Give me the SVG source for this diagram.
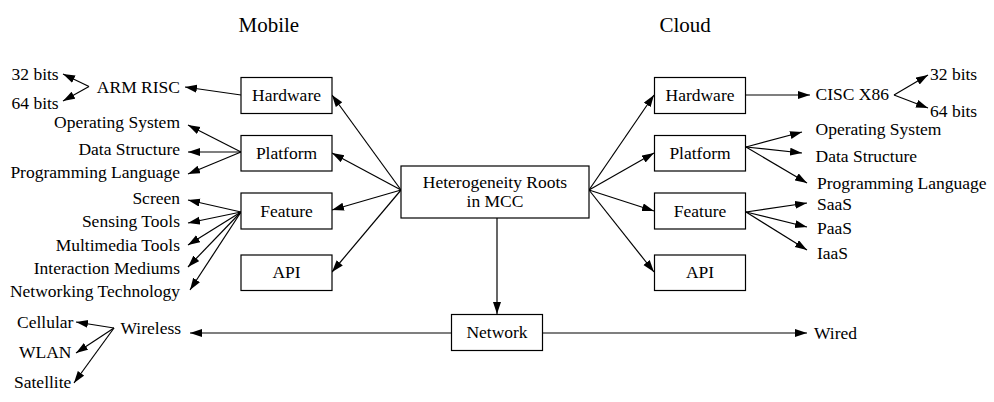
<svg xmlns="http://www.w3.org/2000/svg" width="994" height="402" viewBox="0 0 994 402">
<style>
  text { font-family: "Liberation Serif", "Times New Roman", serif; font-size: 17.5px; fill: #000; }
  .title { font-size: 21px; }
  .end { text-anchor: end; }
  .mid { text-anchor: middle; }
  rect.box { fill: #fff; stroke: #000; stroke-width: 1.2; }
  #connectors line { stroke: #000; stroke-width: 1.2; marker-end: url(#arrow); }
</style>
<defs>
  <marker id="arrow" markerUnits="userSpaceOnUse" markerWidth="13" markerHeight="9" refX="12" refY="4" orient="auto">
    <path d="M0,0 L12,4 L0,8 z" fill="#000"/>
  </marker>
</defs>
<rect width="994" height="402" fill="#fff"/>

<text class="title" x="238.5" y="32">Mobile</text>
<text class="title" x="659.5" y="32">Cloud</text>

<g id="connectors">
  <!-- center to left boxes -->
  <line x1="401" y1="190" x2="332" y2="95"/>
  <line x1="401" y1="190" x2="332" y2="153"/>
  <line x1="401" y1="190" x2="332" y2="210"/>
  <line x1="401" y1="190" x2="332" y2="272"/>
  <!-- center to right boxes -->
  <line x1="589" y1="190" x2="654" y2="95"/>
  <line x1="589" y1="190" x2="654" y2="153"/>
  <line x1="589" y1="190" x2="654" y2="211"/>
  <line x1="589" y1="190" x2="654" y2="272"/>
  <!-- center to network -->
  <line x1="497" y1="218" x2="497" y2="314"/>
  <!-- network -->
  <line x1="451" y1="333" x2="190" y2="333"/>
  <line x1="543" y1="333" x2="807" y2="333"/>
  <!-- wireless -->
  <line x1="114" y1="328" x2="76" y2="322"/>
  <line x1="114" y1="328" x2="76" y2="353"/>
  <line x1="114" y1="328" x2="74" y2="383"/>
  <!-- mobile hardware -->
  <line x1="241" y1="95" x2="185" y2="87"/>
  <line x1="89" y1="86.5" x2="63" y2="74"/>
  <line x1="89" y1="86.5" x2="63" y2="101"/>
  <!-- mobile platform -->
  <line x1="241" y1="152" x2="188" y2="125"/>
  <line x1="241" y1="152" x2="188" y2="152"/>
  <line x1="241" y1="152" x2="188" y2="174"/>
  <!-- mobile feature -->
  <line x1="241" y1="212" x2="188" y2="200"/>
  <line x1="241" y1="212" x2="188" y2="223"/>
  <line x1="241" y1="212" x2="188" y2="245"/>
  <line x1="241" y1="212" x2="188" y2="267"/>
  <line x1="241" y1="212" x2="190" y2="290"/>
  <!-- cloud hardware -->
  <line x1="746" y1="95" x2="810" y2="95"/>
  <line x1="894" y1="95" x2="928" y2="75"/>
  <line x1="894" y1="95" x2="928" y2="108"/>
  <!-- cloud platform -->
  <line x1="746" y1="147" x2="802" y2="132"/>
  <line x1="746" y1="147" x2="802" y2="153"/>
  <line x1="746" y1="147" x2="807" y2="183"/>
  <!-- cloud feature -->
  <line x1="746" y1="212" x2="807" y2="203"/>
  <line x1="746" y1="212" x2="807" y2="227"/>
  <line x1="746" y1="212" x2="807" y2="250"/>
</g>

<g id="root">
  <rect class="box" x="401" y="166" width="188" height="52"/>
  <text class="mid" x="495" y="187.5">Heterogeneity Roots</text>
  <text class="mid" x="495" y="207">in MCC</text>
</g>
<g id="network">
  <rect class="box" x="451.5" y="314.5" width="91" height="36"/>
  <text class="mid" x="497" y="338">Network</text>
</g>

<g id="m-hardware">
  <rect class="box" x="241" y="77.5" width="91" height="36"/>
  <text class="mid" x="286.5" y="101">Hardware</text>
</g>
<g id="m-platform">
  <rect class="box" x="241" y="135.5" width="91" height="35.5"/>
  <text class="mid" x="286.5" y="159">Platform</text>
</g>
<g id="m-feature">
  <rect class="box" x="241" y="193" width="91" height="36"/>
  <text class="mid" x="286.5" y="216.5">Feature</text>
</g>
<g id="m-api">
  <rect class="box" x="241" y="255" width="91" height="35.5"/>
  <text class="mid" x="286.5" y="277.5">API</text>
</g>

<g id="c-hardware">
  <rect class="box" x="654.5" y="77.5" width="91" height="36"/>
  <text class="mid" x="700" y="101">Hardware</text>
</g>
<g id="c-platform">
  <rect class="box" x="654.5" y="135.5" width="91" height="35.5"/>
  <text class="mid" x="700" y="159">Platform</text>
</g>
<g id="c-feature">
  <rect class="box" x="654.5" y="193" width="91" height="36"/>
  <text class="mid" x="700" y="216.5">Feature</text>
</g>
<g id="c-api">
  <rect class="box" x="654.5" y="255" width="91" height="35.5"/>
  <text class="mid" x="700" y="277.5">API</text>
</g>

<g id="m-leaves">
  <text x="11.5" y="79.5">32 bits</text>
  <text x="11.5" y="109">64 bits</text>
  <text class="end" x="180" y="92.5">ARM RISC</text>
  <text class="end" x="180" y="128">Operating System</text>
  <text class="end" x="180" y="155">Data Structure</text>
  <text class="end" x="180" y="178">Programming Language</text>
  <text class="end" x="180" y="204">Screen</text>
  <text class="end" x="180" y="227">Sensing Tools</text>
  <text class="end" x="180" y="251">Multimedia Tools</text>
  <text class="end" x="180" y="274">Interaction Mediums</text>
  <text class="end" x="180" y="297">Networking Technology</text>
  <text x="120.5" y="334">Wireless</text>
  <text x="17" y="328">Cellular</text>
  <text x="19" y="358">WLAN</text>
  <text x="14" y="388">Satellite</text>
</g>

<g id="c-leaves">
  <text x="815.5" y="100">CISC X86</text>
  <text x="930" y="79.5">32 bits</text>
  <text x="930" y="116.5">64 bits</text>
  <text x="815.5" y="135">Operating System</text>
  <text x="815.5" y="162">Data Structure</text>
  <text x="817" y="189">Programming Language</text>
  <text x="817" y="209.5">SaaS</text>
  <text x="817" y="233.5">PaaS</text>
  <text x="817" y="258.5">IaaS</text>
  <text x="814" y="339">Wired</text>
</g>
</svg>
